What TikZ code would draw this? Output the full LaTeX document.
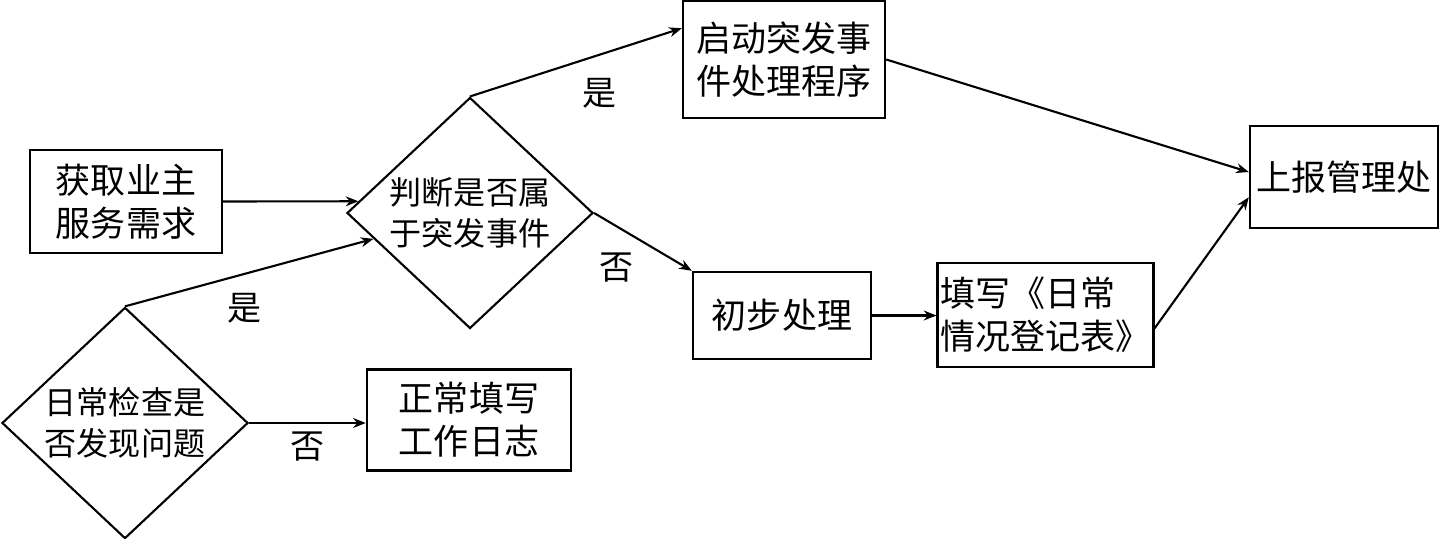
\documentclass[tikz,border=0pt]{standalone}
\usepackage{fontspec}
\newfontfamily\cjk{Noto Sans CJK SC}
\usetikzlibrary{arrows.meta,shapes.geometric}

\begin{document}
\begin{tikzpicture}[x=0.025cm,y=-0.025cm,>={Stealth[length=9pt,width=7pt]},
  box/.style={draw,line width=1.7pt,inner sep=2pt,align=center,font=\cjk\fontsize{24.9}{30.6}\selectfont},
  decide/.style={draw,diamond,line width=1.5pt,inner sep=0pt,align=center,
    minimum width=6.15cm,minimum height=5.75cm,font=\cjk\fontsize{22.8}{29.2}\selectfont},
  tag/.style={inner sep=0pt,font=\cjk\fontsize{24.2}{29}\selectfont},
  flow/.style={->,line width=1.5pt}]
  \useasboundingbox (0,0) rectangle (1440,539);
  % service request and daily check
  \node[box,minimum width=4.8cm,minimum height=2.575cm] (req) at (126,201.5) {获取业主\\服务需求};
  \node[decide] (check) at (125,423) {日常检查是\\否发现问题};
  % judgement
  \node[decide] (judge) at (470,213) {判断是否属\\于突发事件};
  \node[box,minimum width=5.1cm,minimum height=2.525cm] (normal) at (469,420) {正常填写\\工作日志};
  % handling
  \node[box,minimum width=5.05cm,minimum height=2.925cm] (start) at (784,59.5) {启动突发事\\件处理程序};
  \node[box,minimum width=4.45cm,minimum height=2.175cm] (prelim) at (782,315.5) {初步处理};
  \node[box,align=left,minimum width=5.375cm,minimum height=2.6cm] (form) at (1045.5,315) {填写《日常\\情况登记表》};
  \node[box,minimum width=4.7cm,minimum height=2.55cm] (report) at (1344,177) {上报管理处};
  % branch labels
  \node[tag] (yes1) at (600,93) {是};
  \node[tag] (no1) at (617,268) {否};
  \node[tag] (yes2) at (245,308) {是};
  \node[tag] (no2) at (308,447) {否};
  % connectors
  \draw[flow] (req.east) -- (judge.174);
  \draw[flow] (check.north) -- (judge.195);
  \draw[flow] (check.east) -- (check.east -| normal.west);
  \draw[flow] (judge.north) -- (start.163);
  \draw[flow] (judge.east) -- (prelim.north west);
  \draw[flow] (prelim.east) -- (prelim.east -| form.west);
  \draw[flow] (start.east) -- (report.177);
  \draw[flow] (form.-7) -- (report.192);
\end{tikzpicture}
\end{document}
